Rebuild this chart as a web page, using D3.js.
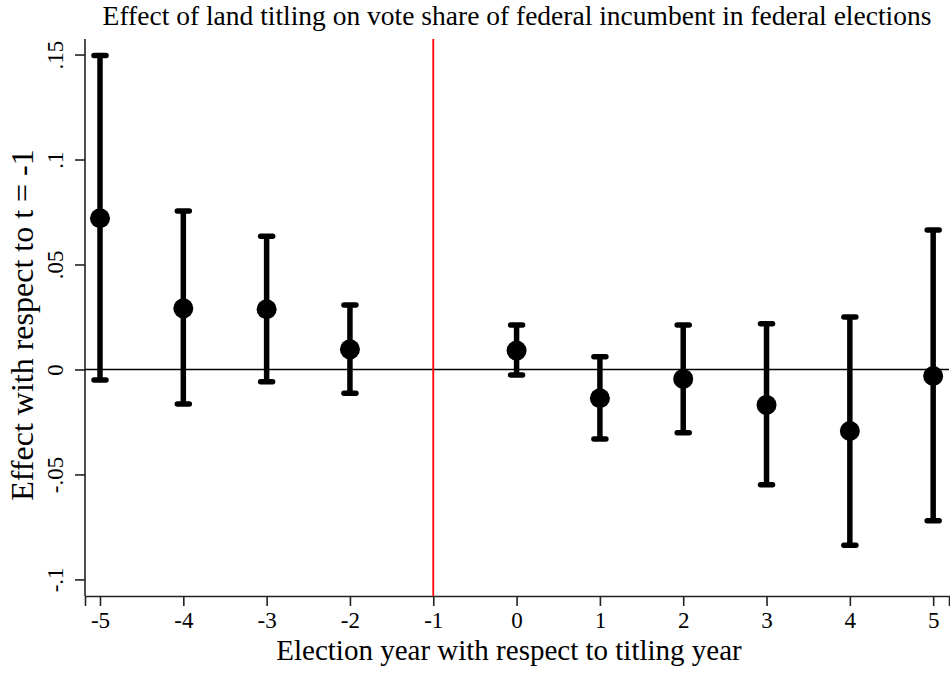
<!DOCTYPE html>
<html>
<head>
<meta charset="utf-8">
<script src="https://cdn.jsdelivr.net/npm/d3@7"></script>
<style>
  html, body { margin: 0; padding: 0; background: #fff; }
  svg { display: block; }
  text { font-family: "Liberation Serif", "Times New Roman", serif; fill: #000; }
</style>
</head>
<body>
<svg id="chart" width="950" height="675"></svg>
<script>
// Event-study estimates relative to t = -1 (omitted period)
const periods   = [-5, -4, -3, -2, 0, 1, 2, 3, 4, 5];
const estimates = [0.072, 0.0291, 0.0287, 0.0096, 0.009, -0.0137, -0.0045, -0.0169, -0.0293, -0.0031];
const ciLower   = [-0.005, -0.0164, -0.0058, -0.0113, -0.0026, -0.0331, -0.0301, -0.0549, -0.0837, -0.072];
const ciUpper   = [0.1496, 0.0755, 0.0634, 0.0307, 0.0212, 0.0061, 0.0212, 0.0218, 0.025, 0.0664];

const xTicks = [-5, -4, -3, -2, -1, 0, 1, 2, 3, 4, 5];
const xTickLabels = ["-5", "-4", "-3", "-2", "-1", "0", "1", "2", "3", "4", "5"];
const yTicks = [-0.1, -0.05, 0, 0.05, 0.1, 0.15];
const yTickLabels = ["-.1", "-.05", "0", ".05", ".1", ".15"];
const referencePeriod = -1;

const titleText = "Effect of land titling on vote share of federal incumbent in federal elections";
const xLabel = "Election year with respect to titling year";
const yLabel = "Effect with respect to t = -1";

const serif = '"Liberation Serif", "Times New Roman", serif';
const svg = d3.select("#chart");
const plot = { left: 85, right: 949, top: 39, bottom: 596 };

const x = d3.scaleLinear().domain([-5.18, 5.19]).range([plot.left, plot.right]);
const y = d3.scaleLinear().domain([-0.1079, 0.1574]).range([plot.bottom, plot.top]);

const points = periods.map((p, i) => ({ p, est: estimates[i], lo: ciLower[i], hi: ciUpper[i] }));

// Title
svg.append("text")
  .attr("x", 517).attr("y", 25)
  .attr("text-anchor", "middle")
  .style("font-family", serif)
  .style("font-size", "27.5px")
  .text(titleText);

// Axes
const xAxis = d3.axisBottom(x).tickValues(xTicks).tickFormat((d, i) => xTickLabels[i])
  .tickSize(10);
const gx = svg.append("g").attr("transform", `translate(0,${plot.bottom})`).call(xAxis)
  .attr("font-family", null).attr("font-size", null);
gx.select(".domain").attr("stroke", "#222").attr("stroke-width", 1.6);
gx.selectAll(".tick line").attr("stroke", "#222").attr("stroke-width", 1.6);
gx.selectAll(".tick text")
  .style("font-family", serif).style("font-size", "23px")
  .attr("fill", "#000")
  .attr("y", 32).attr("dy", null);

const yAxis = d3.axisLeft(y).tickValues(yTicks).tickFormat((d, i) => yTickLabels[i])
  .tickSize(10);
const gy = svg.append("g").attr("transform", `translate(${plot.left},0)`).call(yAxis)
  .attr("font-family", null).attr("font-size", null);
gy.select(".domain").attr("stroke", "#222").attr("stroke-width", 1.6)
  .attr("d", `M0,${plot.bottom}V${plot.top}`);
gy.selectAll(".tick line").attr("stroke", "#222").attr("stroke-width", 1.6);
gy.selectAll(".tick text")
  .style("font-family", serif).style("font-size", "23px")
  .attr("fill", "#000")
  .attr("x", null).attr("dy", null)
  .attr("text-anchor", "middle")
  .attr("transform", "translate(-22,0) rotate(-90)");

// Zero reference line
svg.append("line")
  .attr("x1", plot.left).attr("x2", plot.right)
  .attr("y1", y(0)).attr("y2", y(0))
  .attr("stroke", "#000").attr("stroke-width", 1.6);

// Reference period line
svg.append("line")
  .attr("x1", x(referencePeriod)).attr("x2", x(referencePeriod))
  .attr("y1", plot.top).attr("y2", plot.bottom)
  .attr("stroke", "#f00").attr("stroke-width", 1.8);

// Confidence intervals
const bars = svg.append("g").selectAll("g").data(points).join("g");
bars.append("line")
  .attr("x1", d => x(d.p)).attr("x2", d => x(d.p))
  .attr("y1", d => y(d.lo)).attr("y2", d => y(d.hi))
  .attr("stroke", "#000").attr("stroke-width", 5.5);
bars.selectAll("line.cap").data(d => [{ p: d.p, v: d.lo }, { p: d.p, v: d.hi }]).join("line")
  .attr("class", "cap")
  .attr("x1", d => x(d.p) - 6).attr("x2", d => x(d.p) + 6)
  .attr("y1", d => y(d.v)).attr("y2", d => y(d.v))
  .attr("stroke", "#000").attr("stroke-width", 5.5).attr("stroke-linecap", "round");

// Point estimates
svg.append("g").selectAll("circle").data(points).join("circle")
  .attr("cx", d => x(d.p)).attr("cy", d => y(d.est))
  .attr("r", 10).attr("fill", "#000");

// Axis titles
svg.append("text")
  .attr("x", 509).attr("y", 660)
  .attr("text-anchor", "middle")
  .style("font-family", serif)
  .style("font-size", "29px")
  .text(xLabel);

svg.append("text")
  .attr("transform", "translate(33,325) rotate(-90)")
  .attr("text-anchor", "middle")
  .style("font-family", serif)
  .style("font-size", "32px")
  .text(yLabel);
</script>
</body>
</html>
